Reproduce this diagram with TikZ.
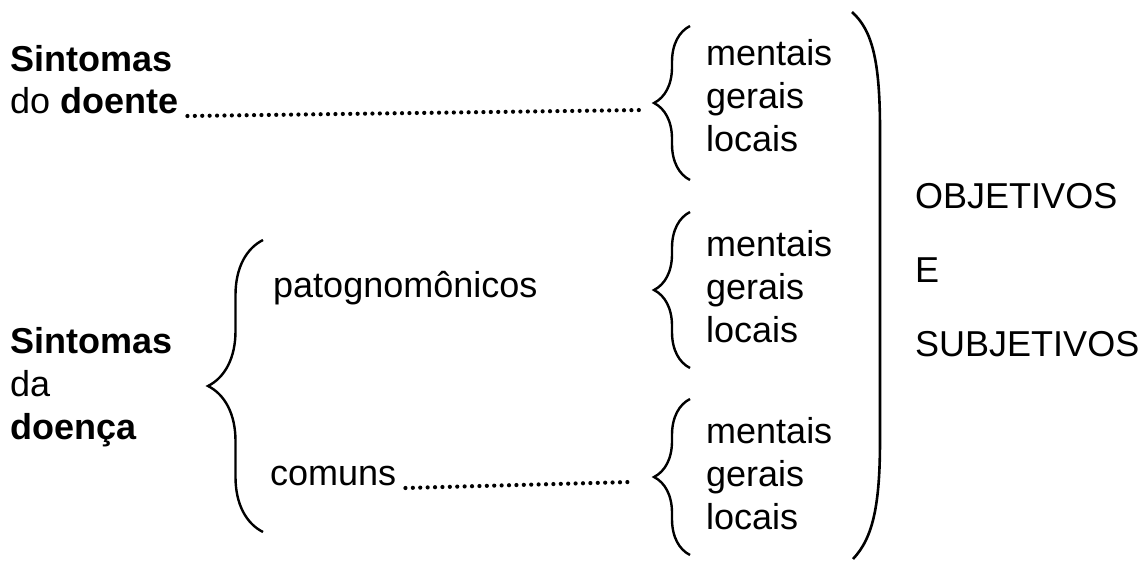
\documentclass[tikz,border=0pt]{standalone}
\usepackage{fontspec}
\setmainfont{Liberation Sans}
\usetikzlibrary{decorations.pathreplacing}
\begin{document}
\begin{tikzpicture}[x=1pt,y=-1pt,
  txt/.style={anchor=base west, inner sep=0pt, font=\fontsize{36}{43}\selectfont},
  br/.style={decorate, decoration={brace, amplitude=#1}, line width=2.4pt},
  dotline/.style={line width=4.2pt, line cap=round, dash pattern=on 0pt off 7.4pt},
  paren/.style={line width=2.6pt}]
\useasboundingbox (0,0) rectangle (1146,562);
% left texts
\node[txt] (s1) at (10,71) {\textbf{Sintomas}};
\node[txt] (s2) at (10,113) {do \textbf{doente}};
\node[txt] (s3) at (10,353) {\textbf{Sintomas}};
\node[txt] (s4) at (10,396) {da};
\node[txt] (s5) at (10,439) {\textbf{doença}};
\node[txt] (pat) at (273,297) {patognomônicos};
\node[txt] (com) at (270,485) {comuns};
% middle column
\node[txt] (m1) at (706,65) {mentais};
\node[txt] (g1) at (706,108) {gerais};
\node[txt] (l1) at (706,151) {locais};
\node[txt] (m2) at (706,256) {mentais};
\node[txt] (g2) at (706,299) {gerais};
\node[txt] (l2) at (706,342) {locais};
\node[txt] (m3) at (706,443) {mentais};
\node[txt] (g3) at (706,486) {gerais};
\node[txt] (l3) at (706,529) {locais};
% right column
\node[txt] (obj) at (915,208) {OBJETIVOS};
\node[txt] (e) at (915,282) {E};
\node[txt] (sub) at (915,356) {SUBJETIVOS};
% braces
\coordinate (b1t) at (690,26);  \coordinate (b1b) at (690,180);
\coordinate (b2t) at (690,212); \coordinate (b2b) at (690,368);
\coordinate (b3t) at (690,399); \coordinate (b3b) at (690,555);
\coordinate (bbt) at (263,240); \coordinate (bbb) at (263,532);
\draw[br=36pt] (b1b) -- (b1t);
\draw[br=36pt] (b2b) -- (b2t);
\draw[br=36pt] (b3b) -- (b3t);
\draw[br=55pt] (bbb) -- (bbt);
% dotted leaders
\coordinate (d1) at (643,110);
\coordinate (d3) at (630,482);
\draw[dotline] ([xshift=9pt,yshift=-3pt]s2.base east) -- (d1);
\draw[dotline] ([xshift=9pt,yshift=-3pt]com.base east) -- (d3);
% big parenthesis
\coordinate (pt) at (852,12);
\coordinate (pb) at (853,559);
\draw[paren] (pt) .. controls (872,30) and (880,60) .. (880,130)
  -- (880,440) .. controls (880,505) and (873,538) .. (pb);
\end{tikzpicture}
\end{document}
